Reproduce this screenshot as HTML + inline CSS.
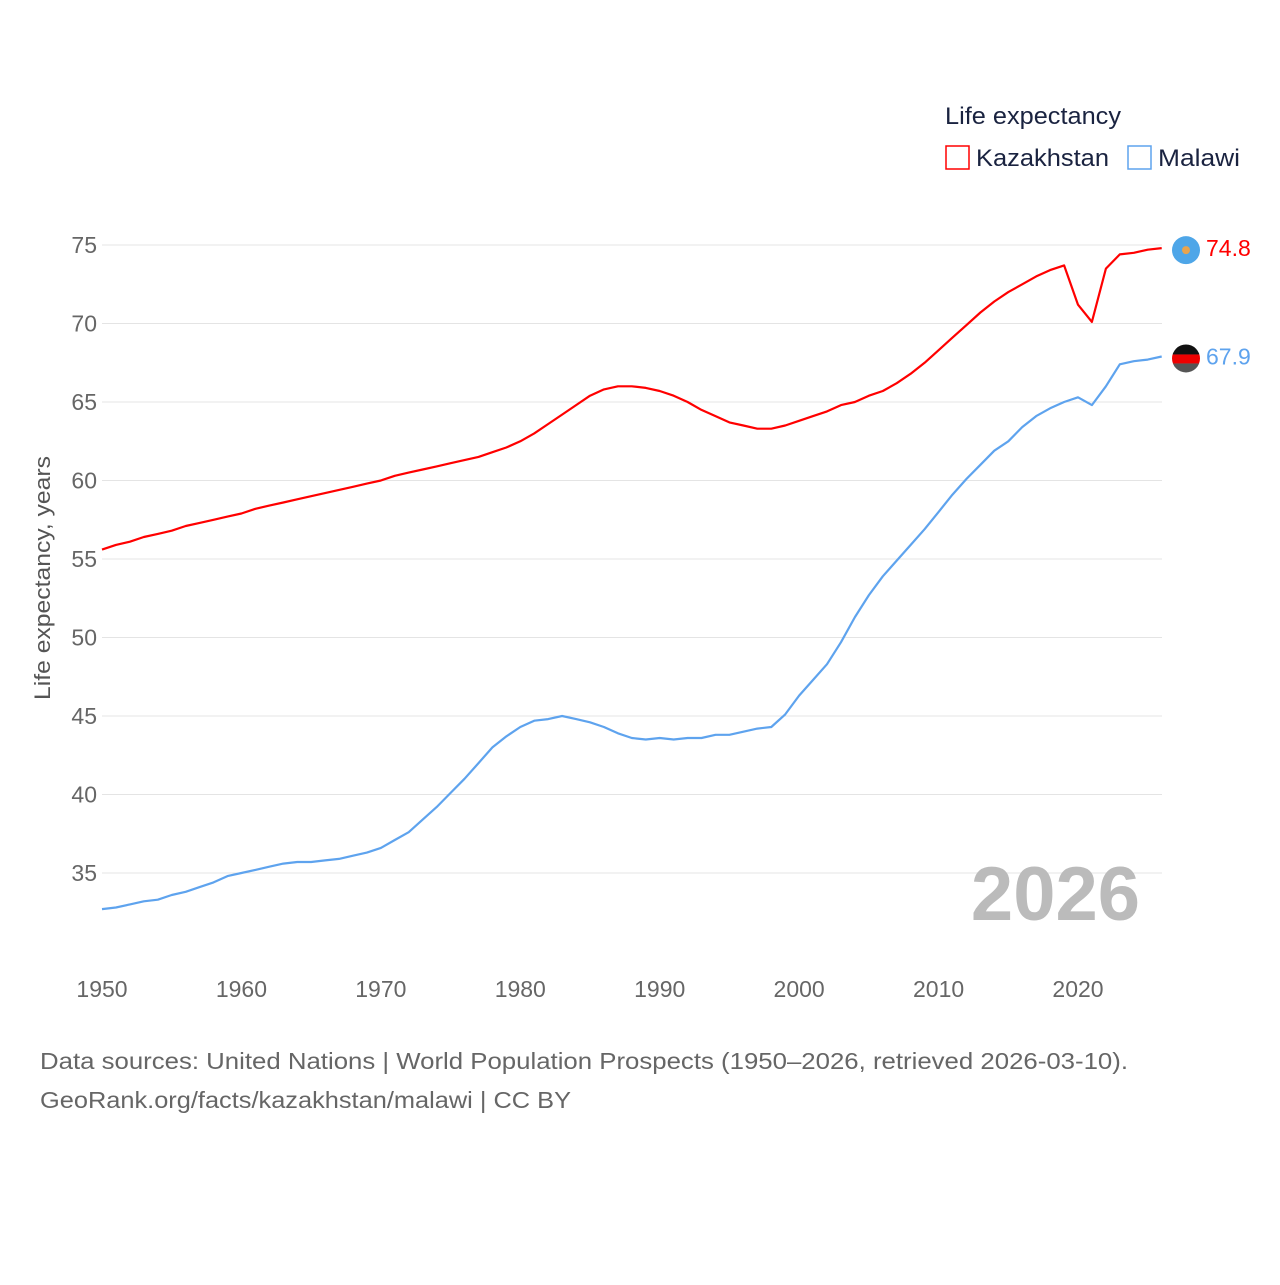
<!DOCTYPE html>
<html><head><meta charset="utf-8">
<style>
body{margin:0;background:#fff;font-family:"Liberation Sans",sans-serif;}
svg text{font-family:"Liberation Sans",sans-serif;}
</style></head>
<body>
<svg id="chart" width="1280" height="1280" viewBox="0 0 1280 1280" xmlns="http://www.w3.org/2000/svg">
<rect width="1280" height="1280" fill="#fff"/>
<g id="grid"></g>
<g id="yticks"></g>
<g id="xticks"></g>
<text transform="translate(50,578) rotate(-90)" text-anchor="middle" font-size="22" fill="#555" textLength="244" lengthAdjust="spacingAndGlyphs">Life expectancy, years</text>
<text x="1140" y="920" text-anchor="end" font-size="76" font-weight="bold" fill="#bbb">2026</text>
<g>
<text x="945" y="124" font-size="24" fill="#1a2340" textLength="176" lengthAdjust="spacingAndGlyphs">Life expectancy</text>
<rect x="946" y="146" width="23" height="23" fill="none" stroke="#f00" stroke-width="1.5"/>
<text x="976" y="166" font-size="24" fill="#1a2340" textLength="133" lengthAdjust="spacingAndGlyphs">Kazakhstan</text>
<rect x="1128" y="146" width="23" height="23" fill="none" stroke="#5ea3ee" stroke-width="1.5"/>
<text x="1158" y="166" font-size="24" fill="#1a2340" textLength="82" lengthAdjust="spacingAndGlyphs">Malawi</text>
</g>
<g id="series"></g>
<text x="40" y="1069" font-size="23" fill="#666" textLength="1088" lengthAdjust="spacingAndGlyphs">Data sources: United Nations | World Population Prospects (1950–2026, retrieved 2026-03-10).</text>
<text x="40" y="1108" font-size="23" fill="#666" textLength="531" lengthAdjust="spacingAndGlyphs">GeoRank.org/facts/kazakhstan/malawi | CC BY</text>
</svg>
<script>
const years=[];for(let y=1950;y<=2026;y++)years.push(y);
const kazakhstan=[55.6,55.9,56.1,56.4,56.6,56.8,57.1,57.3,57.5,57.7,57.9,58.2,58.4,58.6,58.8,59.0,59.2,59.4,59.6,59.8,60.0,60.3,60.5,60.7,60.9,61.1,61.3,61.5,61.8,62.1,62.5,63.0,63.6,64.2,64.8,65.4,65.8,66.0,66.0,65.9,65.7,65.4,65.0,64.5,64.1,63.7,63.5,63.3,63.3,63.5,63.8,64.1,64.4,64.8,65.0,65.4,65.7,66.2,66.8,67.5,68.3,69.1,69.9,70.7,71.4,72.0,72.5,73.0,73.4,73.7,71.2,70.1,73.5,74.4,74.5,74.7,74.8];
const malawi=[32.7,32.8,33.0,33.2,33.3,33.6,33.8,34.1,34.4,34.8,35.0,35.2,35.4,35.6,35.7,35.7,35.8,35.9,36.1,36.3,36.6,37.1,37.6,38.4,39.2,40.1,41.0,42.0,43.0,43.7,44.3,44.7,44.8,45.0,44.8,44.6,44.3,43.9,43.6,43.5,43.6,43.5,43.6,43.6,43.8,43.8,44.0,44.2,44.3,45.1,46.3,47.3,48.3,49.7,51.3,52.7,53.9,54.9,55.9,56.9,58.0,59.1,60.1,61.0,61.9,62.5,63.4,64.1,64.6,65.0,65.3,64.8,66.0,67.4,67.6,67.7,67.9];
const yTicks=[35,40,45,50,55,60,65,70,75];
const xTicks=[1950,1960,1970,1980,1990,2000,2010,2020];
const X=y=>102+(y-1950)*(1078-102)/70;
const Y=v=>245+(75-v)*15.7;
const NS="http://www.w3.org/2000/svg";
function mk(tag,attrs,parent,txt){const e=document.createElementNS(NS,tag);for(const k in attrs)e.setAttribute(k,attrs[k]);if(txt!==undefined)e.textContent=txt;parent.appendChild(e);return e;}
const grid=document.getElementById('grid'),yt=document.getElementById('yticks'),xt=document.getElementById('xticks'),ser=document.getElementById('series');
yTicks.forEach(t=>{
 const l=mk('line',{x1:102,x2:1162,y1:Y(t),y2:Y(t),stroke:'#e4e4e4','stroke-width':1},grid);
 
 
 const tx=mk('text',{x:97,y:Y(t)+8,'text-anchor':'end','font-size':23,fill:'#666'},yt,t);
 
 
});
xTicks.forEach(t=>{
 const tx=mk('text',{x:X(t),y:997,'text-anchor':'middle','font-size':23,fill:'#666'},xt,t);
 
 
});
function line(vals,color,name){
 const d=vals.map((v,i)=>(i?'L':'M')+X(years[i]).toFixed(1)+','+Y(v).toFixed(1)).join('');
 const p=mk('path',{d:d,fill:'none',stroke:color,'stroke-width':2.2,'stroke-linejoin':'round'},ser);
 
 
 const last=vals[vals.length-1];
 const lbl=mk('text',{x:1206,y:Y(last)+8,'font-size':23,fill:color},ser,last.toFixed(1));
 
 
}
line(kazakhstan,'#f00','kazakhstan');
line(malawi,'#5ea3ee','malawi');
const k=mk('circle',{cx:1186,cy:Y(kazakhstan[kazakhstan.length-1])+2,r:14,fill:'#4ea6e8'},ser);


mk('circle',{cx:1186,cy:Y(kazakhstan[kazakhstan.length-1])+2,r:4,fill:'#e8a44e'},ser);
const my=Y(malawi[malawi.length-1])+2;
const g=mk('g',{},ser);


mk('clipPath',{id:'mc'},g);
mk('circle',{cx:1186,cy:my,r:14},document.getElementById('mc'));
mk('rect',{x:1172,y:my-14,width:28,height:10,fill:'#111','clip-path':'url(#mc)'},g);
mk('rect',{x:1172,y:my-4,width:28,height:9,fill:'#e00','clip-path':'url(#mc)'},g);
mk('rect',{x:1172,y:my+5,width:28,height:10,fill:'#555','clip-path':'url(#mc)'},g);
</script>
</body></html>
